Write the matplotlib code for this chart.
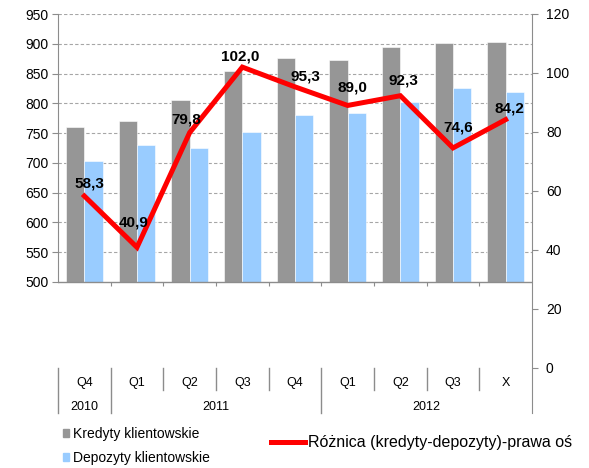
import matplotlib
matplotlib.use("Agg")
import matplotlib.pyplot as plt
import matplotlib.transforms as mtransforms
from matplotlib.lines import Line2D
from matplotlib.patches import Patch

plt.rcParams['font.family'] = ['Liberation Sans', 'DejaVu Sans']

# ---- data ----
quarters = ["Q4", "Q1", "Q2", "Q3", "Q4", "Q1", "Q2", "Q3", "X"]
years = ["2010", "2011", "2012"]
year_spans = [(0, 0), (1, 4), (5, 8)]
kredyty = [761, 771, 805, 854, 876, 872, 894, 901, 903]
depozyty = [703, 730, 725, 752, 781, 783, 802, 826, 819]
roznica = [58.3, 40.9, 79.8, 102.0, 95.3, 89.0, 92.3, 74.6, 84.2]
left_ticks = [500, 550, 600, 650, 700, 750, 800, 850, 900, 950]
right_ticks = [0, 20, 40, 60, 80, 100, 120]
label_offsets_px = [(5, 13), (-3.5, 24.6), (-3, 12.6), (-1.7, 10.3), (10, 10),
                    (4.5, 18), (3, 15), (5, 20), (4, 11)]

GREY = "#969696"
BLUE = "#99CCFF"
RED = "#FF0000"
AXC = "#8C8C8C"

fig = plt.figure(figsize=(5.89, 4.68), dpi=100)
W, H = 589, 468
x0, x1, ytop, ybot = 58, 532, 14, 413
ax = fig.add_axes([x0 / W, 1 - ybot / H, (x1 - x0) / W, (ybot - ytop) / H])
ax2 = ax.twinx()

n = len(quarters)
xs = list(range(n))
bw = 0.35
base = 500
ax.bar([x - bw / 2 for x in xs], [k - base for k in kredyty], bw, bottom=base,
       color=GREY, edgecolor='white', linewidth=0.4, zorder=3)
ax.bar([x + bw / 2 for x in xs], [d - base for d in depozyty], bw, bottom=base,
       color=BLUE, edgecolor='white', linewidth=0.4, zorder=3)

# left axis: 950 at top (px 14), 500 at px 282, bottom at px 413
ppu = (282 - 14) / 450.0
ax.set_ylim(950 - (ybot - ytop) / ppu, 950)
ax.set_xlim(-0.5, n - 0.5)
ax.set_yticks(left_ticks)
ax.set_xticks([])
for t in left_ticks[1:]:
    ax.axhline(t, color="#A6A6A6", lw=0.8, ls=(0, (3, 2)), zorder=1)
ax.axhline(base, color=AXC, lw=1.0, zorder=4)
ax.vlines([i + 0.5 for i in range(n - 1)], base - 4 / ppu, base, color=AXC, lw=0.8, zorder=4)

for s in ['top', 'bottom']:
    ax.spines[s].set_visible(False)
    ax2.spines[s].set_visible(False)
ax.spines['right'].set_visible(False)
ax.spines['left'].set_bounds(500, 950)
ax.spines['left'].set_color(AXC)
ax2.spines['left'].set_visible(False)
ax2.spines['right'].set_color(AXC)
ax.tick_params(axis='y', direction='out', length=4, color=AXC, labelsize=10, pad=3)

# right axis: 120 at px 14, 0 at px 368
rppu = (368 - 14) / 120.0
ax2.set_ylim(-(ybot - 368) / rppu, 120)
ax2.set_yticks(right_ticks)
ax2.tick_params(axis='y', direction='out', length=4, color=AXC, labelsize=10, pad=6)
ax2.plot(xs, roznica, color=RED, lw=3.6, zorder=5, solid_joinstyle='miter')

for x, v, (dx, dy) in zip(xs, roznica, label_offsets_px):
    ax2.annotate(f"{v:.1f}".replace('.', ','), (x, v), xytext=(dx * 0.72, dy * 0.72),
                 textcoords='offset points', ha='center', va='center',
                 fontsize=11, fontweight='bold', zorder=6)

# category table below
trans = mtransforms.blended_transform_factory(ax.transData, ax.transAxes)
def fy(py):
    return (ybot - py) / (ybot - ytop)
long_b = [-0.5, 0.5, 4.5]
for b in [i - 0.5 for i in range(n)]:
    yb = fy(413) if b in long_b else fy(390)
    ax.plot([b, b], [fy(368), yb], transform=trans, color=AXC, lw=1.0, clip_on=False)
for x, q in zip(xs, quarters):
    ax.text(x, fy(383), q, transform=trans, ha='center', va='center', fontsize=9)
for yname, (a, b) in zip(years, year_spans):
    ax.text((a + b) / 2, fy(407), yname, transform=trans, ha='center', va='center', fontsize=9)

# legends
h1 = [Patch(color=GREY), Patch(color=BLUE)]
leg1 = fig.legend(h1, ["Kredyty klientowskie", "Depozyty klientowskie"],
                  loc='upper left', bbox_to_anchor=(63 / W, 1 - 427 / H), frameon=False,
                  fontsize=10, handlelength=0.45, handleheight=0.45, handletextpad=0.3,
                  labelspacing=0.72, borderpad=0, borderaxespad=0)
h2 = [Line2D([0], [0], color=RED, lw=3.6)]
leg2 = fig.legend(h2, ["Różnica (kredyty-depozyty)-prawa oś"], loc='center left',
                  bbox_to_anchor=(271 / W, 1 - 443 / H), frameon=False, fontsize=11.5,
                  handlelength=2.1, handletextpad=0.2, borderpad=0, borderaxespad=0)

fig.savefig("out.png", dpi=100)
